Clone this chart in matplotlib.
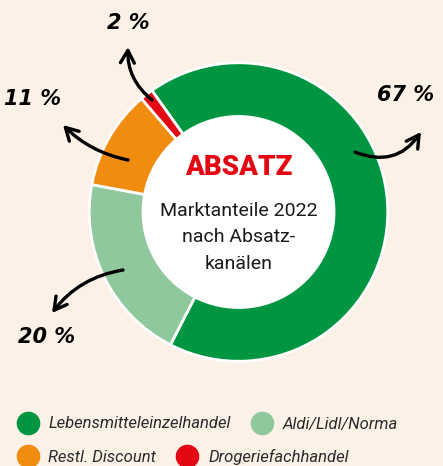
import matplotlib.pyplot as plt
from matplotlib.patches import Circle
from matplotlib.lines import Line2D

# data (shares as drawn in the ring; labels as printed)
channels = ['Lebensmitteleinzelhandel', 'Aldi/Lidl/Norma', 'Restl. Discount', 'Drogeriefachhandel']
shares = [67.4, 20.4, 10.8, 1.4]
colors = ['#009641', '#8fc89d', '#f08c0f', '#e30613']
labels = ['67 %', '20 %', '11 %', '2 %']

BG = '#fcf1e7'
W, H = 443, 466

fig = plt.figure(figsize=(W / 100, H / 100), dpi=100, facecolor=BG)

# donut, placed in pixel box 88..389 x 62..362
ax = fig.add_axes([88 / W, 1 - 362 / H, 301 / W, 300 / H])
ax.set_facecolor('none')
ax.add_patch(Circle((0, 0), 0.64, color='white', zorder=0))
ax.pie(shares, colors=colors, startangle=125.5, counterclock=False,
       radius=1, wedgeprops=dict(width=0.36, edgecolor='white', linewidth=2))
ax.set_xlim(-1.005, 1.005)
ax.set_ylim(-1.005, 1.005)
ax.axis('off')

ax.text(0, 0.30, 'ABSATZ', ha='center', va='center', color='#e30613',
        fontsize=20, fontweight='heavy', family='Roboto')
ax.text(0, -0.17, 'Marktanteile 2022\nnach Absatz-\nkanälen', ha='center', va='center',
        color='#1a1a1a', fontsize=14, family='Roboto', linespacing=1.6)

# overlay in pixel coords for the hand-drawn style callouts
ov = fig.add_axes([0, 0, 1, 1])
ov.set_xlim(0, W)
ov.set_ylim(H, 0)
ov.axis('off')
ov.patch.set_alpha(0)

callouts = [
    # tail, head, rad, label position
    ((355, 152), (421, 132), 0.4, (406, 95)),
    ((123, 270), (52, 313), 0.2, (47, 337)),
    ((128, 160), (63, 125), -0.15, (33, 99)),
    ((152, 100), (128, 47), -0.25, (128, 23)),
]
for lab, (tail, head, rad, pos) in zip(labels, callouts):
    ov.annotate('', xy=head, xytext=tail,
                arrowprops=dict(arrowstyle='->,head_length=0.9,head_width=0.5',
                                connectionstyle=f'arc3,rad={rad}', color='black',
                                lw=2.4, shrinkA=0, shrinkB=0))
    ov.text(pos[0], pos[1], lab, ha='center', va='center', fontsize=15,
            fontweight='heavy', style='italic', color='black', family='DejaVu Sans')

# legend in two rows
def handle(c):
    return Line2D([], [], marker='o', linestyle='none', markersize=16,
                  markerfacecolor=c, markeredgecolor=c)

leg_font = dict(family='Roboto', style='italic', size=12)
for row, y in [(0, 424), (1, 457)]:
    idx = [2 * row, 2 * row + 1]
    lg = fig.legend([handle(colors[i]) for i in idx], [channels[i] for i in idx],
                    loc='center left', bbox_to_anchor=(16 / W, 1 - y / H), ncol=2,
                    frameon=False, prop=leg_font, handlelength=1.4, handletextpad=0.55,
                    columnspacing=1.15, borderpad=0, borderaxespad=0)
    for t in lg.get_texts():
        t.set_color('#2a2a2a')

fig.savefig('out.png', dpi=100, facecolor=BG)
